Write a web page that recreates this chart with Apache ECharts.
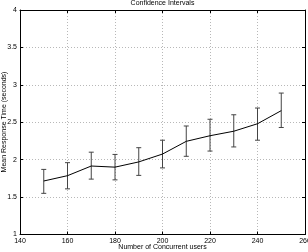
<!DOCTYPE html>
<html>
<head>
<meta charset="utf-8">
<script src="https://cdn.jsdelivr.net/npm/echarts@6/dist/echarts.min.js"></script>
<style>
  html, body { margin: 0; padding: 0; background: #fff; }
  #chart { width: 308px; height: 252px; }
</style>
</head>
<body>
<div id="chart"></div>
<script>
// concurrent users and measured response times
const users = [150, 160, 170, 180, 190, 200, 210, 220, 230, 240, 250];
const meanTime = [1.715, 1.786, 1.915, 1.90, 1.97, 2.075, 2.245, 2.32, 2.38, 2.48, 2.655];
const upperCI = [1.87, 1.96, 2.10, 2.07, 2.16, 2.26, 2.45, 2.54, 2.60, 2.69, 2.89];
const lowerCI = [1.55, 1.61, 1.74, 1.73, 1.79, 1.89, 2.045, 2.115, 2.17, 2.26, 2.43];

const font = 'Liberation Sans';
const titleText = { fontSize: 7, fontWeight: 'normal', color: '#000', fontFamily: font };

const chart = echarts.init(document.getElementById('chart'));

const axisCommon = {
  axisLine: { show: true, onZero: false, lineStyle: { color: '#000', width: 1 } },
  axisTick: { show: true, inside: true, length: 3, lineStyle: { color: '#000' } },
  splitLine: { show: true, lineStyle: { color: '#b8b8b8', type: [1, 2], width: 1 } },
  axisLabel: { color: '#000', fontSize: 7, fontFamily: font, margin: 3 }
};

chart.setOption({
  animation: false,
  title: [{
    text: 'Confidence Intervals',
    left: 162.5, top: 0, padding: 0, textAlign: 'center',
    textStyle: titleText
  }, {
    text: 'Number of Concurrent users',
    left: 162.5, bottom: 1, padding: 0, textAlign: 'center',
    textStyle: titleText
  }],
  graphic: [{
    type: 'text', x: 4.5, y: 122, rotation: Math.PI / 2,
    style: {
      text: 'Mean Response Time (seconds)', fontSize: 7, fill: '#000', fontFamily: font,
      align: 'center', verticalAlign: 'middle'
    }
  }],
  grid: { left: 20, right: 3, top: 10, bottom: 17.5, outerBoundsMode: 'none' },
  xAxis: [{
    type: 'value', min: 140, max: 260, interval: 20,
    ...axisCommon
  }, {
    type: 'value', min: 140, max: 260, interval: 20, position: 'top',
    axisLine: { show: true, lineStyle: { color: '#000' } },
    axisTick: { show: true, inside: true, length: 3, lineStyle: { color: '#000' } },
    axisLabel: { show: false }, splitLine: { show: false }
  }],
  yAxis: [{
    type: 'value', min: 1, max: 4, interval: 0.5,
    ...axisCommon
  }, {
    type: 'value', min: 1, max: 4, interval: 0.5, position: 'right',
    axisLine: { show: true, lineStyle: { color: '#000' } },
    axisTick: { show: true, inside: true, length: 3, lineStyle: { color: '#000' } },
    axisLabel: { show: false }, splitLine: { show: false }
  }],
  series: [{
    type: 'custom',
    xAxisIndex: 0, yAxisIndex: 0,
    data: users.map((u, i) => [u, lowerCI[i], upperCI[i]]),
    renderItem: function (params, api) {
      const lo = api.coord([api.value(0), api.value(1)]);
      const hi = api.coord([api.value(0), api.value(2)]);
      const w = 2.5;
      const style = { stroke: '#444', lineWidth: 1 };
      return {
        type: 'group',
        children: [
          { type: 'line', shape: { x1: lo[0], y1: lo[1], x2: hi[0], y2: hi[1] }, style },
          { type: 'line', shape: { x1: lo[0] - w, y1: lo[1], x2: lo[0] + w, y2: lo[1] }, style },
          { type: 'line', shape: { x1: hi[0] - w, y1: hi[1], x2: hi[0] + w, y2: hi[1] }, style }
        ]
      };
    },
    z: 2
  }, {
    type: 'line',
    xAxisIndex: 0, yAxisIndex: 0,
    data: users.map((u, i) => [u, meanTime[i]]),
    showSymbol: false,
    lineStyle: { color: '#000', width: 1 },
    z: 3
  }]
});
</script>
</body>
</html>
